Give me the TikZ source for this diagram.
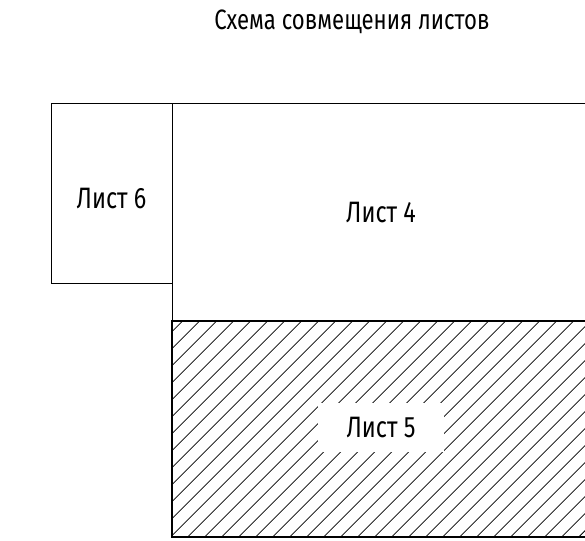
\documentclass[tikz,border=0pt]{standalone}
\usepackage{fontspec}
\setmainfont{Fira Sans}[FakeStretch=0.79]
\begin{document}
\begin{tikzpicture}[x=1pt,y=-1pt,
  thinline/.style={line width=1pt},
  thickline/.style={line width=2.8pt},
  hatchline/.style={line width=0.75pt},
  lbl/.style={font=\fontsize{29.5}{31}\selectfont, inner sep=0pt},
  ttl/.style={font=\fontsize{28}{30}\selectfont, inner sep=0pt}]
\useasboundingbox (0,0) rectangle (585,540);
% coordinates
\coordinate (s6a) at (51,104);
\coordinate (s6b) at (172,283);
\coordinate (s4a) at (172,104);
\coordinate (s4b) at (600,321);
\coordinate (s5a) at (172,321);
\coordinate (s5b) at (600,537);
% hatching of sheet 5
\begin{scope}
  \clip (s5a) rectangle (s5b);
  \foreach \i in {-16,...,42}{
    \draw[hatchline] ({181.7+17*\i-250},572) -- ({181.7+17*\i+20},302);
  }
\end{scope}
% sheet 6
\draw[thinline] (s6a) rectangle (s6b);
% sheet 4
\draw[thinline] (s4b |- s4a) -- (s4a) -- (s5a);
% sheet 5
\draw[thickline] (s5b |- s5a) -- (s5a) -- (s5a |- s5b) -- (s5b);
% labels
\node[ttl] (title) at (352,22) {Схема совмещения листов};
\node[lbl] (l6) at (111.5,199) {Лист 6};
\node[lbl] (l4) at (381,213) {Лист 4};
\node[lbl, fill=white, minimum width=126pt, minimum height=49pt] (l5) at (381,427.5) {Лист 5};
\end{tikzpicture}
\end{document}
